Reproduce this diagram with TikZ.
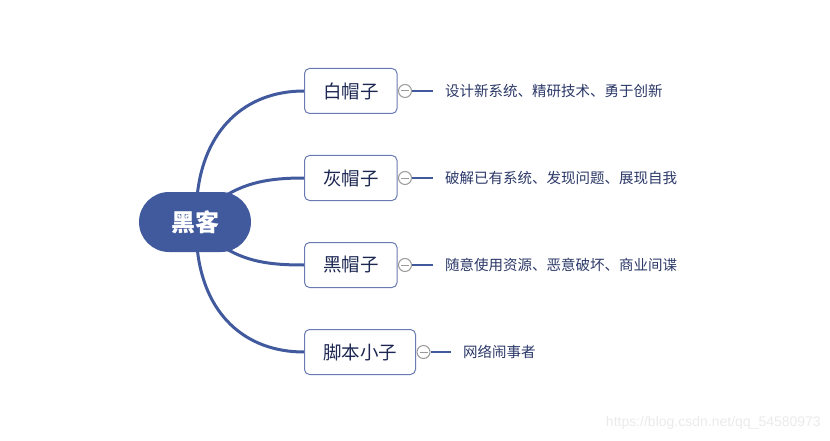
\documentclass[tikz,border=0pt]{standalone}
\usepackage{fontspec}
\setmainfont{Noto Sans CJK SC}
\newfontfamily\wmfont{Liberation Sans}
\usetikzlibrary{backgrounds}
\definecolor{mainblue}{HTML}{415A9E}
\definecolor{boxline}{HTML}{6A7BB3}
\definecolor{boxtext}{HTML}{1C2752}
\definecolor{desctext}{HTML}{2B3868}
\definecolor{circgrey}{HTML}{9A9A9A}
\definecolor{wmgrey}{HTML}{EAEAEA}
\tikzset{
  rootnode/.style={fill=mainblue, rounded corners=30pt, minimum width=112pt, minimum height=60pt,
    inner sep=0pt, text=white, font=\fontsize{24}{24}\selectfont\bfseries},
  hatbox/.style={draw=boxline, line width=1pt, fill=white, rounded corners=5pt, anchor=west,
    minimum height=45pt, inner xsep=18.5pt, inner ysep=0pt, text=boxtext, font=\fontsize{18.5}{18.5}\selectfont},
  branch/.style={draw=mainblue, line width=3pt},
  foldcirc/.style={circle, draw=circgrey, line width=1pt, fill=white, minimum size=13pt, inner sep=0pt},
  desc/.style={anchor=west, inner sep=0pt, text=desctext, font=\fontsize{14.5}{15}\selectfont},
  leafline/.style={draw=mainblue, line width=2pt}
}
\newcommand{\foldmark}[1]{\draw[circgrey, line width=1pt] ([xshift=-4pt]#1.center) -- ([xshift=4pt]#1.center);}
\begin{document}
\begin{tikzpicture}[x=1pt,y=-1pt]
\useasboundingbox (0,0) rectangle (830,441);
% nodes
\node[rootnode] (root) at (195,222) {黑客};
\node[hatbox] (h1) at (304,91) {白帽子};
\node[hatbox] (h2) at (304,178) {灰帽子};
\node[hatbox] (h3) at (304,265) {黑帽子};
\node[hatbox] (h4) at (304,352) {脚本小子};
% fold circles
\node[foldcirc] (c1) at ([xshift=7.5pt]h1.east) {};
\node[foldcirc] (c2) at ([xshift=7.5pt]h2.east) {};
\node[foldcirc] (c3) at ([xshift=7.5pt]h3.east) {};
\node[foldcirc] (c4) at ([xshift=7.5pt]h4.east) {};
\foldmark{c1}\foldmark{c2}\foldmark{c3}\foldmark{c4}
% descriptions
\node[desc] (d1) at (445,91) {设计新系统、精研技术、勇于创新};
\node[desc] (d2) at (445,178) {破解已有系统、发现问题、展现自我};
\node[desc] (d3) at (445,265) {随意使用资源、恶意破坏、商业间谍};
\node[desc] (d4) at (463,352) {网络闹事者};
% watermark
\node[anchor=east, inner sep=0pt, text=wmgrey, font=\wmfont\fontsize{14}{14}\selectfont] (wm) at (821,423) {https://blog.csdn.net/qq\_54580973};
\begin{scope}[on background layer]
\draw[branch] ([xshift=2pt,yshift=-6pt]root.north) .. controls (203,130) and (245,91) .. (h1.west);
\draw[branch] ([xshift=24pt,yshift=-8pt]root.north) .. controls (245,182) and (270,178) .. (h2.west);
\draw[branch] ([xshift=24pt,yshift=8pt]root.south) .. controls (245,262) and (270,265) .. (h3.west);
\draw[branch] ([xshift=2pt,yshift=6pt]root.south) .. controls (203,314) and (245,352) .. (h4.west);
\draw[leafline] (c1.east) -- ([xshift=-12pt]d1.west);
\draw[leafline] (c2.east) -- ([xshift=-12pt]d2.west);
\draw[leafline] (c3.east) -- ([xshift=-12pt]d3.west);
\draw[leafline] (c4.east) -- ([xshift=-12pt]d4.west);
\end{scope}
\end{tikzpicture}
\end{document}
